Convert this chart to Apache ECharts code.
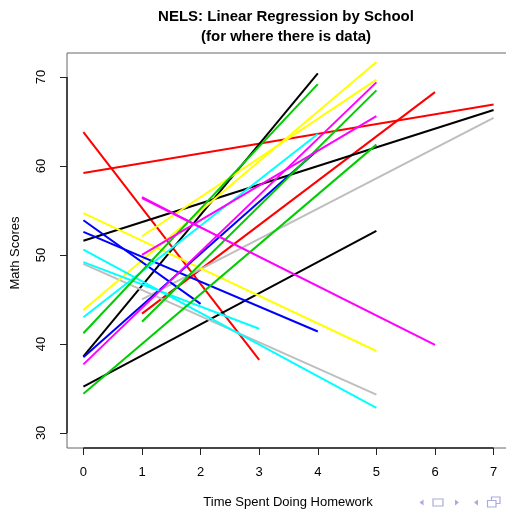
<!DOCTYPE html>
<html>
<head>
<meta charset="utf-8">
<script src="https://cdn.jsdelivr.net/npm/echarts@6/dist/echarts.min.js"></script>
<style>
html,body{margin:0;padding:0;background:#fff;}
#c{width:506px;height:509px;}
</style>
</head>
<body>
<div id="c"></div>
<script>
// ---- data (one regression segment per school) ----
const schoolColor = ['red','red','red','black','black','black','gray','gray',
  'yellow','yellow','yellow','blue','blue','blue','cyan','cyan','cyan',
  'green','green','green','magenta','magenta','magenta','magenta'];
const xStart = [0,0,1, 0,0,0, 0,1, 0,0,1, 0,0,0, 0,0,0, 0,0,1, 0,1,1,1];
const xEnd   = [7,3,6, 7,4,5, 5,7, 5,5,5, 2,4,4, 5,3,4, 4,5,5, 5,5,6,2];
const yStart = [59.2,63.8,43.4, 51.6,38.6,35.2, 49.0,45.0, 54.7,43.8,52.1,
  53.9,52.6,38.5, 50.6,49.2,43.0, 41.2,34.4,42.5, 37.7,50.0,56.4,56.5];
const yEnd   = [66.9,38.2,68.3, 66.3,70.4,52.7, 34.3,65.4, 39.2,71.7,69.7,
  44.5,41.4,61.8, 32.8,41.7,63.6, 69.2,62.4,68.5, 69.4,65.6,39.9,53.1];
const xTicks = [0,1,2,3,4,5,6,7];
const yTicks = [30,40,50,60,70];
const xRange = [-0.28, 7.28];
const yRange = [28.3, 72.7];

const palette = {black:'#000000', red:'#FF0000', green:'#00CD00', blue:'#0000FF',
  cyan:'#00FFFF', magenta:'#FF00FF', yellow:'#FFFF00', gray:'#BEBEBE'};
const FONT = '"Liberation Sans", Arial, Helvetica, sans-serif';

const series = schoolColor.map((c, i) => ({
  type: 'line',
  data: [[xStart[i], yStart[i]], [xEnd[i], yEnd[i]]],
  showSymbol: false,
  symbol: 'none',
  silent: true,
  lineStyle: {color: palette[c], width: 2, cap: 'butt'},
  z: 2
}));
// axis lines spanning the tick range (R style)
series.push({
  type: 'line', silent: true, symbol: 'none', clip: false,
  data: [[xTicks[0], yRange[0]], [xTicks[xTicks.length-1], yRange[0]]],
  lineStyle: {color: '#222', width: 1.5}, z: 5
});
series.push({
  type: 'line', silent: true, symbol: 'none', clip: false,
  data: [[xRange[0], yTicks[0]], [xRange[0], yTicks[yTicks.length-1]]],
  lineStyle: {color: '#222', width: 1.5}, z: 5
});

const nav = '#aaaadd';
const chart = echarts.init(document.getElementById('c'), null, {renderer: 'canvas'});
chart.setOption({
  animation: false,
  backgroundColor: '#fff',
  title: {
    text: 'NELS: Linear Regression by School\n(for where there is data)',
    left: 281, top: 2, textAlign: 'center',
    textStyle: {fontFamily: FONT, fontWeight: 'bold', fontSize: 15, lineHeight: 20, color: '#000'}
  },
  grid: {left: 67, top: 53, width: 443, height: 395, show: true,
    outerBoundsMode: 'none', containLabel: false,
    borderColor: '#666', borderWidth: 1, backgroundColor: 'transparent'},
  xAxis: {
    type: 'value', min: xRange[0], max: xRange[1],
    axisLine: {show: false, onZero: false},
    splitLine: {show: false},
    axisTick: {show: true, customValues: xTicks, length: 7, inside: false,
      lineStyle: {color: '#222', width: 1}},
    axisLabel: {customValues: xTicks, margin: 18, fontFamily: FONT, fontSize: 13, color: '#000'}
  },
  yAxis: {
    type: 'value', min: yRange[0], max: yRange[1],
    axisLine: {show: false, onZero: false},
    splitLine: {show: false},
    axisTick: {show: true, customValues: yTicks, length: 7, inside: false,
      lineStyle: {color: '#222', width: 1}},
    axisLabel: {customValues: yTicks, rotate: 90, margin: 19, fontFamily: FONT, fontSize: 13, color: '#000'}
  },
  graphic: [
    {type: 'text', x: 288, y: 502,
      style: {text: 'Time Spent Doing Homework', fontFamily: FONT, fontSize: 13, fill: '#000', align: 'center', verticalAlign: 'middle'}},
    {type: 'text', x: 15, y: 253, rotation: Math.PI / 2,
      style: {text: 'Math Scores', fontFamily: FONT, fontSize: 13, fill: '#000', align: 'center', verticalAlign: 'middle'}},
    {type: 'polygon', shape: {points: [[419.5,502.5],[423.5,499.5],[423.5,505.5]]}, style: {fill: nav}},
    {type: 'rect', shape: {x: 433, y: 499, width: 10, height: 7}, style: {fill: 'none', stroke: nav, lineWidth: 1.2}},
    {type: 'polygon', shape: {points: [[459,502.5],[455,499.5],[455,505.5]]}, style: {fill: nav}},
    {type: 'polygon', shape: {points: [[474,502.5],[478,499.5],[478,505.5]]}, style: {fill: nav}},
    {type: 'rect', shape: {x: 491.5, y: 497, width: 8.5, height: 6.5}, style: {fill: 'none', stroke: nav, lineWidth: 1.2}},
    {type: 'rect', shape: {x: 487.5, y: 500.5, width: 8.5, height: 6.5}, style: {fill: '#fff', stroke: nav, lineWidth: 1.2}}
  ],
  series: series
});
</script>
</body>
</html>
